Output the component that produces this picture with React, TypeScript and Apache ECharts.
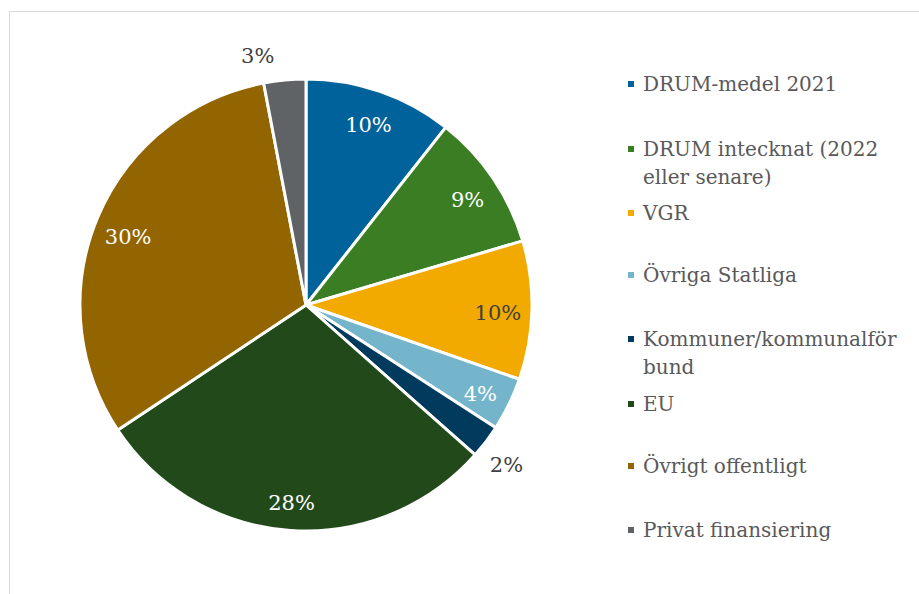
import React, { useEffect, useRef } from "react";
import * as echarts from "echarts";

const names = [
  "DRUM-medel 2021",
  "DRUM intecknat (2022 eller senare)",
  "VGR",
  "Övriga Statliga",
  "Kommuner/kommunalförbund",
  "EU",
  "Övrigt offentligt",
  "Privat finansiering",
];
const values = [10.6, 9.8, 9.9, 3.8, 2.4, 29.1, 31.3, 3.0];
const pctLabels = ["10%", "9%", "10%", "4%", "2%", "28%", "30%", "3%"];
const labelRing = ["in", "in", "in", "in", "out", "in", "in", "out"];
const colors = ["#00629B", "#3A7D22", "#F2AA00", "#74B5CC", "#003A5D", "#22491A", "#926500", "#5F6366"];
const labelColors = ["#ffffff", "#ffffff", "#404040", "#ffffff", "#404040", "#ffffff", "#ffffff", "#404040"];
const legendLines = [
  ["DRUM-medel 2021"],
  ["DRUM intecknat (2022", "eller senare)"],
  ["VGR"],
  ["Övriga Statliga"],
  ["Kommuner/kommunalför", "bund"],
  ["EU"],
  ["Övrigt offentligt"],
  ["Privat finansiering"],
];

// layout constants
const legendCenters = [85, 150, 214, 276, 340, 405, 467, 531];
const labelOffsets = [
  [-1, 3],
  [1, 4],
  [-2, 3],
  [0, 4],
  [-5, 4],
  [-1, 4],
  [1, 7],
  [-24, 8],
];

const FONT = "DejaVu Serif";

export default function App() {
  const ref = useRef<HTMLDivElement>(null);
  useEffect(() => {
    if (!ref.current) return;
    const chart = echarts.init(ref.current, null, { renderer: "svg" });
    const cx = 306;
    const cy = 305;
    const R = 226;
    const mk = (ring: string | null) =>
      names.map((n, i) => ({
        name: n,
        value: values[i],
        label: {
          show: ring === null ? false : labelRing[i] === ring,
          color: labelColors[i],
          offset: labelOffsets[i],
        },
      }));
    const overlay = (ring: string, r0: number, r1: number) => ({
      type: "pie",
      center: [cx, cy],
      radius: [r0, r1],
      startAngle: 90,
      clockwise: true,
      silent: true,
      avoidLabelOverlap: false,
      data: mk(ring),
      itemStyle: { color: "rgba(0,0,0,0)", borderWidth: 0 },
      label: {
        position: "inside",
        fontFamily: FONT,
        fontSize: 21,
        formatter: (p: any) => pctLabels[p.dataIndex],
      },
      labelLine: { show: false },
      emphasis: { disabled: true },
      z: 5,
    });
    const graphics: any[] = [
      {
        type: "rect",
        shape: { x: 9.5, y: 11.5, width: 1200, height: 1200 },
        style: { fill: "none", stroke: "#d9d9d9", lineWidth: 1 },
        silent: true,
        z: -10,
      },
    ];
    legendLines.forEach((lines, i) => {
      lines.slice(1).forEach((ln, j) => {
        graphics.push({
          type: "text",
          left: 643,
          top: legendCenters[i] + 28 * (j + 1) - 11,
          style: { text: ln, fontFamily: FONT, fontSize: 20, fill: "#595959" },
          silent: true,
        });
      });
    });
    chart.setOption({
      animation: false,
      backgroundColor: "#ffffff",
      legend: names.map((n, i) => ({
        orient: "vertical",
        left: 626,
        top: legendCenters[i] - 11,
        padding: 0,
        itemWidth: 8,
        itemHeight: 8,
        icon: "rect",
        selectedMode: false,
        data: [{ name: n, itemStyle: { color: colors[i] } }],
        formatter: () => legendLines[i][0],
        textStyle: { fontFamily: FONT, fontSize: 20, color: "#595959", padding: [0, 0, 0, 3] },
      })),
      graphic: graphics,
      series: [
        {
          type: "pie",
          center: [cx, cy],
          radius: [0, R],
          startAngle: 90,
          clockwise: true,
          silent: true,
          data: mk(null).map((d, i) => ({ ...d, itemStyle: { color: colors[i] } })),
          itemStyle: { borderColor: "#ffffff", borderWidth: 3 },
          label: { show: false },
          labelLine: { show: false },
          emphasis: { disabled: true },
        },
        overlay("in", 156, R),
        overlay("out", 240, 270),
      ],
    });
    return () => chart.dispose();
  }, []);
  return <div ref={ref} style={{ position: "fixed", left: 0, top: 0, width: 919, height: 594 }} />;
}
